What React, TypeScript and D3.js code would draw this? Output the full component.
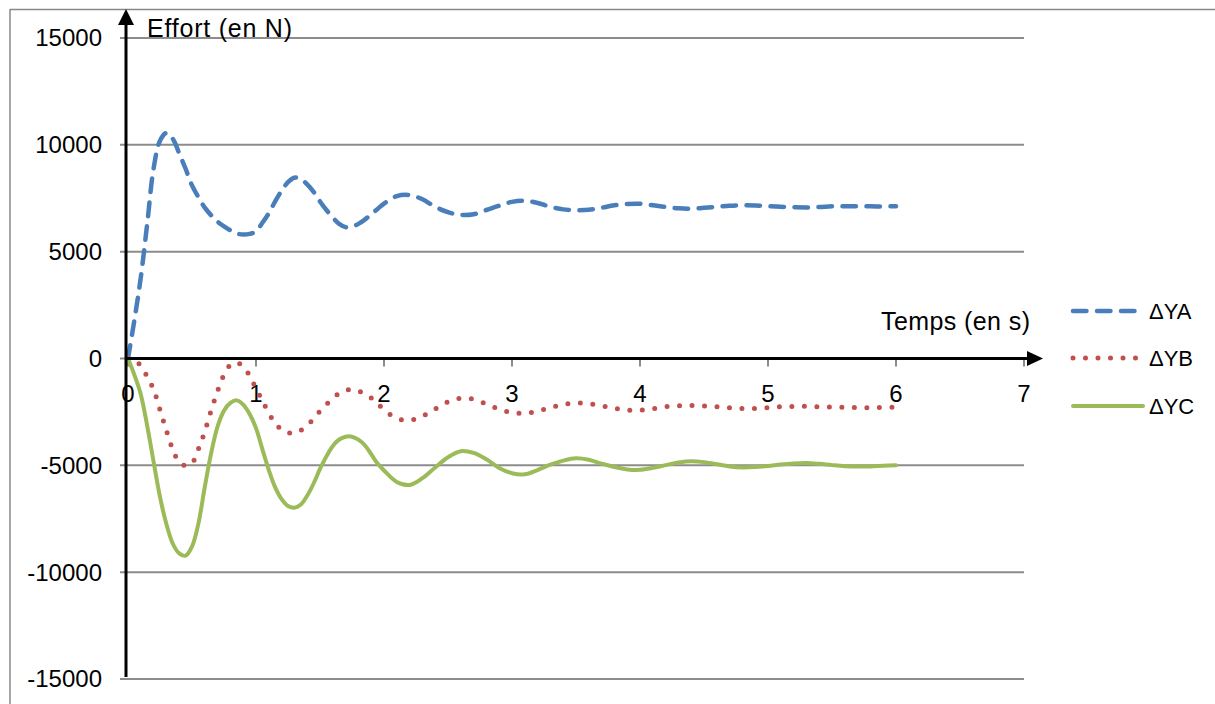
import { useRef, useEffect } from "react";
import * as d3 from "d3";

// temps (s): pas de 0.05 jusqu'à 2 s, puis 0.1
const times = [
  0, 0.05, 0.1, 0.15, 0.2, 0.25, 0.3, 0.35, 0.4, 0.45, 0.5, 0.55, 0.6, 0.65, 0.7, 0.75, 0.8, 0.85, 0.9, 0.95,
  1.0, 1.05, 1.1, 1.15, 1.2, 1.25, 1.3, 1.35, 1.4, 1.45, 1.5, 1.55, 1.6, 1.65, 1.7, 1.75, 1.8, 1.85, 1.9, 1.95,
  2.0, 2.1, 2.2, 2.3, 2.4, 2.5, 2.6, 2.7, 2.8, 2.9, 3.0, 3.1, 3.2, 3.3, 3.4, 3.5, 3.6, 3.7, 3.8, 3.9, 4.0,
  4.1, 4.2, 4.3, 4.4, 4.5, 4.6, 4.7, 4.8, 4.9, 5.0, 5.1, 5.2, 5.3, 5.4, 5.5, 5.6, 5.7, 5.8, 5.9, 6.0,
];

const deltaYA = [
  0, 1800, 3800, 6300, 8900, 10190, 10560, 10280, 9600, 8880, 8100, 7550, 7060, 6700, 6400, 6180, 6000, 5850, 5800, 5830,
  5950, 6350, 6800, 7350, 7850, 8250, 8460, 8400, 8150, 7800, 7350, 6950, 6600, 6300, 6150, 6170, 6300, 6500, 6750, 7000,
  7250, 7600, 7650, 7450, 7100, 6850, 6720, 6750, 6950, 7150, 7330, 7380, 7280, 7100, 6980, 6940, 6960, 7060, 7170, 7230, 7240,
  7170, 7090, 7030, 7010, 7050, 7100, 7150, 7170, 7160, 7130, 7100, 7080, 7070, 7090, 7120, 7130, 7130, 7120, 7120, 7130,
];

const deltaYB = [
  0, -80, -340, -850, -1450, -2400, -3370, -4270, -4850, -5020, -4900, -4240, -3420, -2420, -1520, -760, -300, -190, -380, -800,
  -1400, -1970, -2560, -3020, -3330, -3470, -3490, -3360, -3130, -2830, -2460, -2150, -1870, -1630, -1500, -1450, -1520, -1650, -1850, -2110,
  -2400, -2800, -2890, -2700, -2360, -2030, -1860, -1910, -2130, -2370, -2530, -2565, -2460, -2300, -2150, -2085, -2120, -2210, -2330, -2410, -2420,
  -2350, -2260, -2210, -2200, -2220, -2260, -2310, -2340, -2340, -2300, -2260, -2240, -2240, -2260, -2270, -2290, -2300, -2300, -2290, -2270,
];

const deltaYC = [
  0, -770, -1680, -3150, -4830, -6480, -7750, -8670, -9120, -9230, -8800, -7730, -6010, -4420, -3180, -2440, -2080, -1960, -2160, -2600,
  -3260, -4250, -5220, -6030, -6580, -6900, -6980, -6830, -6420, -5850, -5170, -4580, -4090, -3790, -3660, -3660, -3800, -4060, -4480, -4920,
  -5240, -5780, -5920, -5600, -5100, -4620, -4340, -4420, -4720, -5120, -5370, -5420, -5220, -4970, -4780, -4670, -4740, -4920, -5080, -5190, -5210,
  -5120, -4990, -4870, -4810, -4850, -4950, -5050, -5100, -5080, -5030, -4960, -4910, -4890, -4930, -4990, -5040, -5060, -5050, -5020, -5000,
];

const yTicks = [-15000, -10000, -5000, 0, 5000, 10000, 15000];
const xTicks = [0, 1, 2, 3, 4, 5, 6, 7];

const series = [
  { name: "ΔYA", values: deltaYA, color: "#4a7ebb", width: 4.5, dash: "13.5 10.5" },
  { name: "ΔYB", values: deltaYB, color: "#c0504d", width: 5, dash: "0 12.5" },
  { name: "ΔYC", values: deltaYC, color: "#9bbb59", width: 4, dash: null },
];

const FONT = "'Liberation Sans', Arial, sans-serif";

const App = () => {
  const svgRef = useRef(null);

  useEffect(() => {
    const svg = d3.select(svgRef.current);
    svg.selectAll("*").remove();

    const x = d3.scaleLinear().domain([0, 7]).range([128, 1024]);
    const y = d3.scaleLinear().domain([-15000, 15000]).range([679, 38]);
    const axisX = 126;
    const axisY = y(0);

    // cadre extérieur (coupé par la fenêtre)
    svg.append("line").attr("x1", 10).attr("x2", 1215).attr("y1", 9.5).attr("y2", 9.5)
      .attr("stroke", "#888").attr("stroke-width", 1.5);
    svg.append("line").attr("x1", 10).attr("x2", 10).attr("y1", 9).attr("y2", 704)
      .attr("stroke", "#888").attr("stroke-width", 1.5);

    // grille horizontale
    svg.append("g")
      .selectAll("line")
      .data(yTicks)
      .enter()
      .append("line")
      .attr("x1", 120)
      .attr("x2", x(7))
      .attr("y1", (d) => y(d))
      .attr("y2", (d) => y(d))
      .attr("stroke", "#8c8c8c")
      .attr("stroke-width", 2);

    svg.append("g")
      .selectAll("text")
      .data(yTicks)
      .enter()
      .append("text")
      .attr("x", 102)
      .attr("y", (d) => y(d))
      .attr("dy", "0.35em")
      .attr("text-anchor", "end")
      .style("font-family", FONT)
      .style("font-size", "24px")
      .attr("fill", "#000")
      .text((d) => d);

    // graduations de l'axe des temps
    svg.append("g")
      .selectAll("line")
      .data(xTicks)
      .enter()
      .append("line")
      .attr("x1", (d) => x(d))
      .attr("x2", (d) => x(d))
      .attr("y1", axisY)
      .attr("y2", axisY + 8)
      .attr("stroke", "#8c8c8c")
      .attr("stroke-width", 2);

    svg.append("g")
      .selectAll("text")
      .data(xTicks)
      .enter()
      .append("text")
      .attr("x", (d) => x(d))
      .attr("y", 394)
      .attr("dy", "0.35em")
      .attr("text-anchor", "middle")
      .style("font-family", FONT)
      .style("font-size", "24px")
      .text((d) => d);

    // courbes
    const line = d3
      .line()
      .x((d) => x(d[0]))
      .y((d) => y(d[1]))
      .curve(d3.curveCatmullRom.alpha(0.5));

    series.forEach((s) => {
      const pts = times.map((t, i) => [t, s.values[i]]);
      const p = svg
        .append("path")
        .datum(pts)
        .attr("d", line)
        .attr("fill", "none")
        .attr("stroke", s.color)
        .attr("stroke-width", s.width)
        .attr("stroke-linecap", "round")
        .attr("stroke-linejoin", "round");
      if (s.dash) p.attr("stroke-dasharray", s.dash);
    });

    // axes avec flèches
    svg.append("line").attr("x1", axisX).attr("x2", axisX).attr("y1", 677).attr("y2", 22)
      .attr("stroke", "#000").attr("stroke-width", 3);
    svg.append("path")
      .attr("d", `M${axisX},9 L${axisX - 8},25 L${axisX + 8},25 Z`)
      .attr("fill", "#000");
    svg.append("line").attr("x1", axisX - 1).attr("x2", 1030).attr("y1", axisY).attr("y2", axisY)
      .attr("stroke", "#000").attr("stroke-width", 3);
    svg.append("path")
      .attr("d", `M1043,${axisY} L1027,${axisY - 7.5} L1027,${axisY + 7.5} Z`)
      .attr("fill", "#000");

    svg.append("text")
      .attr("x", 147)
      .attr("y", 37)
      .style("font-family", FONT)
      .style("font-size", "25px")
      .attr("textLength", 145)
      .attr("lengthAdjust", "spacing")
      .text("Effort (en N)");

    svg.append("text")
      .attr("x", 881)
      .attr("y", 330)
      .style("font-family", FONT)
      .style("font-size", "25px")
      .attr("textLength", 149)
      .attr("lengthAdjust", "spacing")
      .text("Temps (en s)");

    // légende
    const legendY = [311, 358, 406];
    const legend = svg
      .append("g")
      .selectAll("g")
      .data(series)
      .enter()
      .append("g");

    legend
      .append("line")
      .attr("x1", 1073)
      .attr("x2", (d) => (d.dash ? 1139 : 1143))
      .attr("y1", (d, i) => legendY[i])
      .attr("y2", (d, i) => legendY[i])
      .attr("stroke", (d) => d.color)
      .attr("stroke-width", (d) => d.width)
      .attr("stroke-linecap", "round")
      .attr("stroke-dasharray", (d) => d.dash || null);

    legend
      .append("text")
      .attr("x", 1149)
      .attr("y", (d, i) => legendY[i])
      .attr("dy", "0.35em")
      .style("font-family", FONT)
      .style("font-size", "22px")
      .text((d) => d.name);
  }, []);

  return (
    <svg
      ref={svgRef}
      width="1215"
      height="704"
      style={{ position: "absolute", left: 0, top: 0, background: "#fff" }}
    ></svg>
  );
};

export default App;
